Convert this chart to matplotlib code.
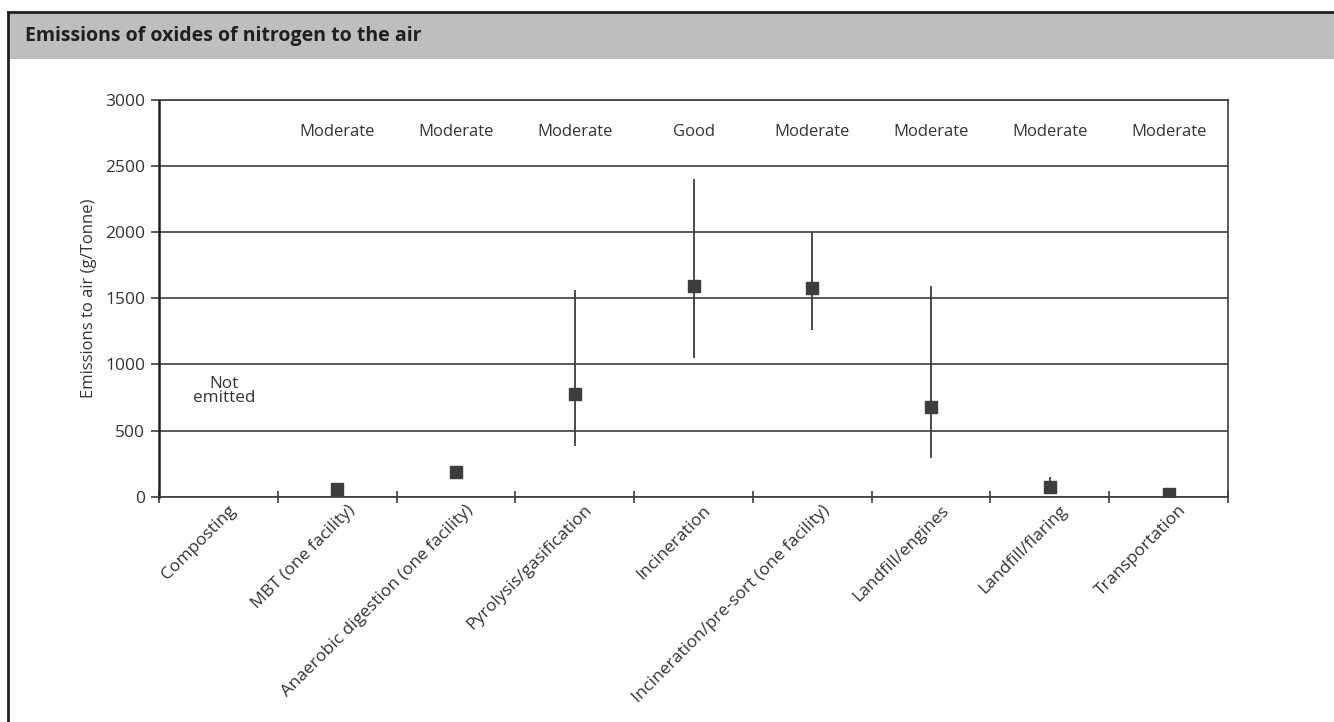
import matplotlib.pyplot as plt
from matplotlib.patches import Rectangle
from matplotlib.lines import Line2D

plt.rcParams['font.family'] = ['Open Sans', 'DejaVu Sans']

# NOx emissions by waste treatment route (g per tonne)
processes = ["Composting", "MBT (one facility)", "Anaerobic digestion (one facility)",
             "Pyrolysis/gasification", "Incineration", "Incineration/pre-sort (one facility)",
             "Landfill/engines", "Landfill/flaring", "Transportation"]
central = [None, 60, 185, 775, 1590, 1580, 680, 70, 20]
low = [None, None, None, 380, 1050, 1260, 295, 40, None]
high = [None, None, None, 1560, 2400, 2000, 1590, 150, None]
ratings = ["", "Moderate", "Moderate", "Moderate", "Good", "Moderate", "Moderate", "Moderate", "Moderate"]

dark = "#3d3d3f"
text_col = "#333333"

fig = plt.figure(figsize=(13.34, 7.22), dpi=100)

# header band and frame
fig.patches.append(Rectangle((8 / 1334, 1 - 59 / 722), 1, 47 / 722, transform=fig.transFigure,
                             facecolor="#bdbec0", edgecolor="none", zorder=0))
fig.lines.append(Line2D([8 / 1334, 1], [1 - 12 / 722] * 2, transform=fig.transFigure,
                        color="#231f20", lw=2))
fig.lines.append(Line2D([8 / 1334] * 2, [0, 1 - 12 / 722], transform=fig.transFigure,
                        color="#231f20", lw=2))
fig.text(25 / 1334, 1 - 36 / 722, "Emissions of oxides of nitrogen to the air",
         fontsize=14, fontweight="bold", color="#231f20", va="center", ha="left")

ax = fig.add_axes([159 / 1334, 1 - 496.7 / 722, (1228 - 159) / 1334, (496.7 - 100) / 722])
n = len(processes)
xs = [i + 0.5 for i in range(n)]

ax.set_xlim(0, n)
ax.set_ylim(0, 3000)
ax.set_yticks(range(0, 3001, 500))
ax.yaxis.grid(True, color=dark, lw=1.2)
ax.set_axisbelow(True)

for x, c, lo, hi in zip(xs, central, low, high):
    if lo is not None:
        ax.vlines(x, lo, hi, color=dark, lw=1.3, zorder=3)
    if c is not None:
        ax.plot(x, c, marker="s", ms=9, color=dark, mec=dark, zorder=4, clip_on=True)

for x, r in zip(xs, ratings):
    if r:
        ax.text(x, 2760, r, ha="center", va="center", fontsize=12, color=text_col)
ax.text(xs[0] + 0.05, 800, "Not\nemitted", ha="center", va="center", fontsize=12.3,
        color=text_col, linespacing=0.8)

# boundary ticks between categories; labels sit on invisible minor ticks
# nudged a little right so the slanted text ends just past the centre
ax.set_xticks(range(n + 1))
ax.set_xticklabels([])
ax.set_xticks([x + 0.08 for x in xs], minor=True)
ax.set_xticklabels(processes, minor=True, rotation=45, ha="right", rotation_mode="anchor",
                   fontsize=12.5, color=text_col)
ax.tick_params(axis="x", which="major", direction="inout", length=9, width=1.2, color=dark)
ax.tick_params(axis="x", which="minor", length=0, pad=4)
ax.tick_params(axis="y", direction="out", length=6, width=1.2, color=dark,
               labelsize=12.5, labelcolor=text_col, pad=4)

for s in ax.spines.values():
    s.set_color(dark)
    s.set_linewidth(1.2)
ax.spines["left"].set_color("#231f20")
ax.spines["left"].set_linewidth(1.8)

ax.set_ylabel("Emissions to air (g/Tonne)", fontsize=12, color=text_col, labelpad=6)

fig.savefig("out.png", dpi=100)
